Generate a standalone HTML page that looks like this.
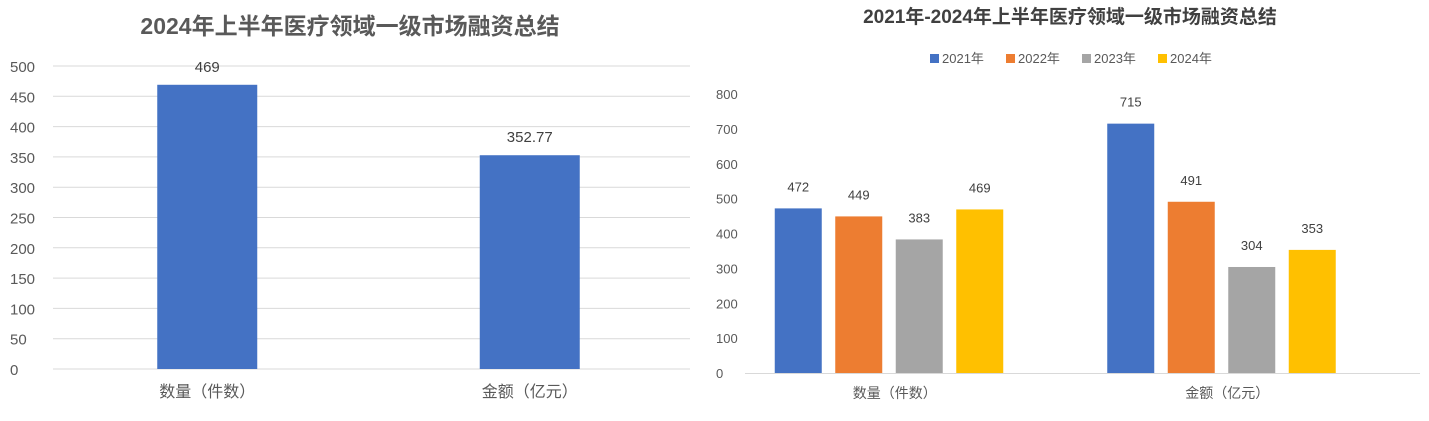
<!DOCTYPE html>
<html><head><meta charset="utf-8"><style>
body{margin:0;background:#fff;}
svg{display:block;font-family:"Liberation Sans","Noto Sans CJK SC",sans-serif;}
</style></head><body>
<svg id="c" width="1429" height="421">
<text x="350" y="34" text-anchor="middle" font-size="23" font-weight="bold" fill="#595959">2024年上半年医疗领域一级市场融资总结</text>
<text x="1070" y="23" text-anchor="middle" font-size="19" font-weight="bold" fill="#404040">2021年-2024年上半年医疗领域一级市场融资总结</text>
<g id="left"></g>
<g id="right"></g>
</svg>
<script>
const leftCats=["数量（件数）","金额（亿元）"];
const leftVals=[469,352.77];
const leftLabels=["469","352.77"];
const leftTicks=[0,50,100,150,200,250,300,350,400,450,500];
const rightCats=["数量（件数）","金额（亿元）"];
const rightSeries=["2021年","2022年","2023年","2024年"];
const v2021=[472,715];
const v2022=[449,491];
const v2023=[383,304];
const v2024=[469,353];
const rightTicks=[0,100,200,300,400,500,600,700,800];
const colors=["#4472c4","#ed7d31","#a5a5a5","#ffc000"];
const NS="http://www.w3.org/2000/svg";
function mk(p,t,a,txt){const e=document.createElementNS(NS,t);for(const k in a)e.setAttribute(k,a[k]);if(txt!==undefined)e.textContent=txt;p.appendChild(e);return e;}
// left
const L=document.getElementById('left');
const ly=v=>369-v*(369-66)/500;
leftTicks.forEach(t=>{
 const g=mk(L,'line',{x1:53,x2:690,y1:ly(t),y2:ly(t),stroke:"#d9d9d9","stroke-width":1});
 
 const tx=mk(L,'text',{x:10,y:ly(t)+6,"font-size":15,fill:"#595959"},String(t));
 
});
const lband=(690-53)/leftCats.length;
leftCats.forEach((c,i)=>{
 const cx=53+lband*(i+0.5)+(i===0?-5:-1);
 const r=mk(L,'rect',{x:cx-50,y:ly(leftVals[i]),width:100,height:ly(0)-ly(leftVals[i]),fill:"#4472c4"});
 
 const lb=mk(L,'text',{x:cx,y:ly(leftVals[i])-13,"text-anchor":"middle","font-size":15,fill:"#404040"},leftLabels[i]);
 
 const ct=mk(L,'text',{x:cx,y:397,"text-anchor":"middle","font-size":16,fill:"#595959"},c);
 
});
// right
const R=document.getElementById('right');
const ry=v=>373-v*(373-94)/800;
rightTicks.forEach(t=>{
 const tx=mk(R,'text',{x:716,y:ry(t)+5,"font-size":13,fill:"#595959"},String(t));
 
});
const ax=mk(R,'line',{x1:745,x2:1420,y1:373.5,y2:373.5,stroke:"#d9d9d9"});

const all=[v2021,v2022,v2023,v2024];
const rband=(1420-745)/rightCats.length;
rightCats.forEach((c,i)=>{
 const cx=745+rband*(i+0.5)-16+i*0;
 all.forEach((s,j)=>{
  const x=cx-123+j*60.5+ (i===0?0:-5);
  const r=mk(R,'rect',{x:x,y:ry(s[i]),width:47,height:ry(0)-ry(s[i]),fill:colors[j]});
  
  const lb=mk(R,'text',{x:x+23.5,y:ry(s[i])-17,"text-anchor":"middle","font-size":13,fill:"#404040"},String(s[i]));
  
 });
 const ct=mk(R,'text',{x:cx-3+(i===0?0:-5),y:398,"text-anchor":"middle","font-size":14,fill:"#595959"},c);
 
});
rightSeries.forEach((s,j)=>{
 const x=930+j*76;
 const r=mk(R,'rect',{x:x,y:54,width:9,height:9,fill:colors[j]});
 
 const t=mk(R,'text',{x:x+12,y:63,"font-size":13,fill:"#595959"},s);
 
});
</script>
</body></html>
